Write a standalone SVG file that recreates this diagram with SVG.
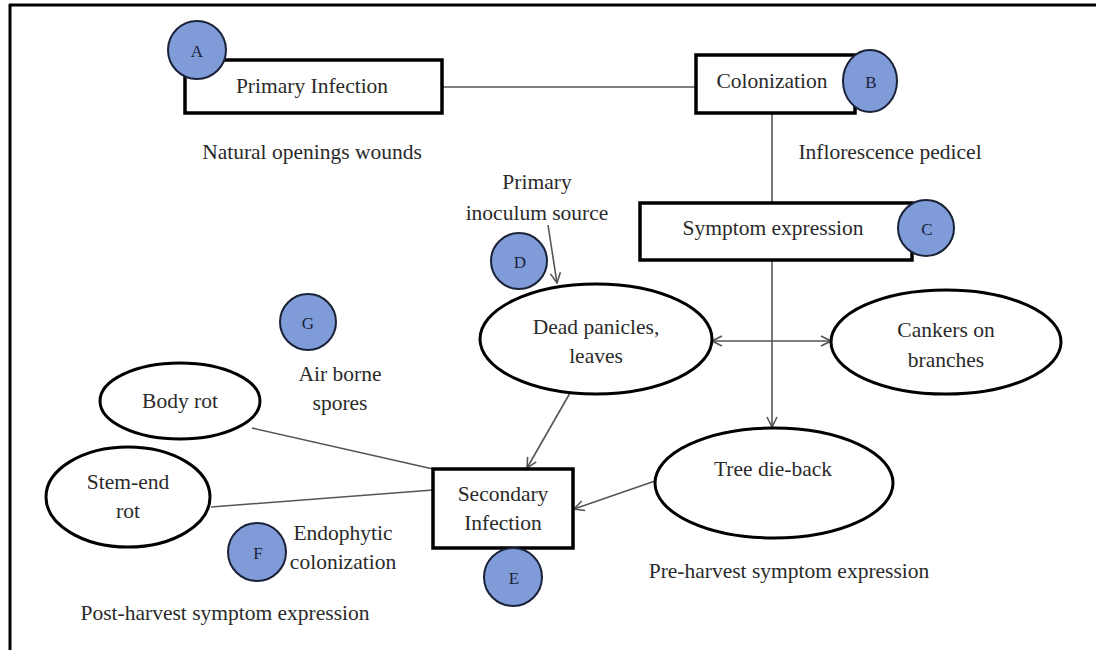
<svg xmlns="http://www.w3.org/2000/svg" width="1096" height="650" viewBox="0 0 1096 650">
<style>
.box{fill:#fff;stroke:#000;stroke-width:3.5}
.ell{fill:#fff;stroke:#000;stroke-width:3}
.badge{fill:#7f9bd8;stroke:#1a2238;stroke-width:2}
.t{font-family:"Liberation Serif","Times New Roman",serif;font-size:21.5px;fill:#2a2a2a;text-anchor:middle}
.bt{font-family:"Liberation Serif","Times New Roman",serif;font-size:17px;fill:#1a2238;text-anchor:middle}
.ln{stroke:#555;stroke-width:1.6;fill:none}
</style>
<defs>
<marker id="arr" viewBox="0 0 12 12" refX="11" refY="6" markerWidth="12" markerHeight="12" markerUnits="userSpaceOnUse" orient="auto-start-reverse">
<path d="M1,1 L11,6 L1,11" fill="none" stroke="#555" stroke-width="1.6"/>
</marker>
</defs>
<rect width="1096" height="650" fill="#fff"/>
<g id="frame">
<line x1="9" y1="5" x2="1096" y2="5" stroke="#000" stroke-width="3"/>
<line x1="10" y1="4" x2="10" y2="650" stroke="#000" stroke-width="3"/>
</g>
<g id="connectors">
<line class="ln" x1="442" y1="87" x2="696" y2="87"/>
<line class="ln" x1="772" y1="114" x2="772" y2="203"/>
<line class="ln" x1="772" y1="260" x2="772" y2="427" marker-end="url(#arr)"/>
<line class="ln" x1="712" y1="341" x2="831" y2="341" marker-start="url(#arr)" marker-end="url(#arr)"/>
<line class="ln" x1="548" y1="225" x2="557" y2="283" marker-end="url(#arr)"/>
<line class="ln" x1="570" y1="393" x2="527" y2="468" marker-end="url(#arr)"/>
<line class="ln" x1="655" y1="481" x2="574" y2="509" marker-end="url(#arr)"/>
<line class="ln" x1="252" y1="428" x2="433" y2="469"/>
<line class="ln" x1="211" y1="507" x2="433" y2="490"/>
</g>
<g id="primary-infection">
<rect class="box" x="185" y="60" width="257" height="53"/>
<text class="t" x="312" y="93">Primary Infection</text>
</g>
<g id="badge-a"><circle class="badge" cx="197" cy="50" r="29"/><text class="bt" x="197" y="57">A</text></g>
<g id="colonization">
<rect class="box" x="696" y="55" width="159" height="58"/>
<text class="t" x="772" y="88">Colonization</text>
</g>
<g id="badge-b"><ellipse class="badge" cx="870" cy="81" rx="27" ry="31"/><text class="bt" x="871" y="88">B</text></g>
<g id="label-natural"><text class="t" x="312" y="159">Natural openings wounds</text></g>
<g id="label-inflorescence"><text class="t" x="890" y="159">Inflorescence pedicel</text></g>
<g id="symptom-expression">
<rect class="box" x="640" y="203" width="272" height="57"/>
<text class="t" x="773" y="235">Symptom expression</text>
</g>
<g id="badge-c"><circle class="badge" cx="926" cy="228" r="28"/><text class="bt" x="927" y="235">C</text></g>
<g id="label-primary-inoculum">
<text class="t" x="537" y="189">Primary</text>
<text class="t" x="537" y="220">inoculum source</text>
</g>
<g id="badge-d"><circle class="badge" cx="519" cy="261" r="28"/><text class="bt" x="520" y="268">D</text></g>
<g id="dead-panicles">
<ellipse class="ell" cx="596" cy="339" rx="116" ry="55"/>
<text class="t" x="596" y="334">Dead panicles,</text>
<text class="t" x="596" y="363">leaves</text>
</g>
<g id="cankers">
<ellipse class="ell" cx="946" cy="342" rx="115" ry="52"/>
<text class="t" x="946" y="337">Cankers on</text>
<text class="t" x="946" y="367">branches</text>
</g>
<g id="badge-g"><circle class="badge" cx="308" cy="322" r="28"/><text class="bt" x="308" y="329">G</text></g>
<g id="label-airborne">
<text class="t" x="340" y="381">Air borne</text>
<text class="t" x="340" y="410">spores</text>
</g>
<g id="body-rot">
<ellipse class="ell" cx="180" cy="401" rx="80" ry="38"/>
<text class="t" x="180" y="408">Body rot</text>
</g>
<g id="stem-end-rot">
<ellipse class="ell" cx="128" cy="497" rx="82" ry="50"/>
<text class="t" x="128" y="489">Stem-end</text>
<text class="t" x="128" y="518">rot</text>
</g>
<g id="tree-die-back">
<ellipse class="ell" cx="774" cy="483" rx="119" ry="55"/>
<text class="t" x="773" y="476">Tree die-back</text>
</g>
<g id="secondary-infection">
<rect class="box" x="433" y="469" width="140" height="79"/>
<text class="t" x="503" y="501">Secondary</text>
<text class="t" x="503" y="530">Infection</text>
</g>
<g id="badge-e"><circle class="badge" cx="513" cy="577" r="29"/><text class="bt" x="514" y="584">E</text></g>
<g id="badge-f"><circle class="badge" cx="257" cy="552" r="29"/><text class="bt" x="258" y="559">F</text></g>
<g id="label-endophytic">
<text class="t" x="343" y="540">Endophytic</text>
<text class="t" x="343" y="569">colonization</text>
</g>
<g id="label-post-harvest"><text class="t" x="225" y="620">Post-harvest symptom expression</text></g>
<g id="label-pre-harvest"><text class="t" x="789" y="578">Pre-harvest symptom expression</text></g>
</svg>
